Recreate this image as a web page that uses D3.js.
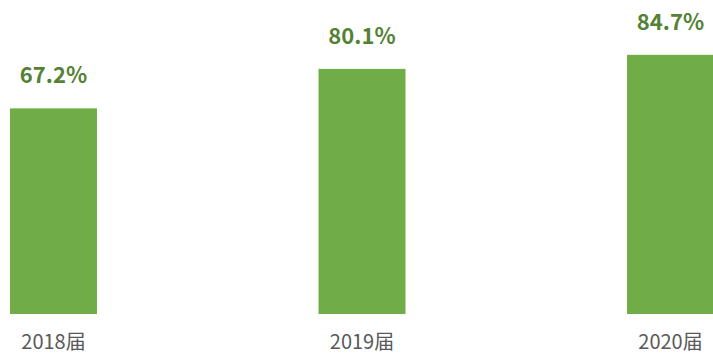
<!DOCTYPE html>
<html>
<head>
<meta charset="utf-8">
<script src="https://cdn.jsdelivr.net/npm/d3@7"></script>
<style>
  html, body { margin: 0; padding: 0; background: #fff; }
  svg { display: block; }
</style>
</head>
<body>
<svg id="chart" width="713" height="354"></svg>
<script>
// Graduating class categories and their rates (%)
const categories = ["2018届", "2019届", "2020届"];
const values = [67.2, 80.1, 84.7];

const svg = d3.select("#chart");
const font = "'Noto Sans CJK SC', 'Noto Sans', sans-serif";

const x = d3.scaleBand()
  .domain(categories)
  .range([10, 714])
  .paddingInner(0.718)
  .paddingOuter(0);

const y = d3.scaleLinear()
  .domain([0, 100])
  .range([314, 8]);

const data = categories.map((c, i) => ({ c, v: values[i] }));

svg.selectAll("rect.bar")
  .data(data)
  .join("rect")
  .attr("class", "bar")
  .attr("x", d => x(d.c))
  .attr("y", d => y(d.v))
  .attr("width", x.bandwidth())
  .attr("height", d => y(0) - y(d.v))
  .attr("fill", "#70ad47");

svg.selectAll("text.value")
  .data(data)
  .join("text")
  .attr("class", "value")
  .attr("x", d => x(d.c) + x.bandwidth() / 2)
  .attr("y", d => y(d.v) - 25)
  .attr("text-anchor", "middle")
  .attr("font-family", font)
  .attr("font-weight", "bold")
  .attr("font-size", 22)
  .attr("fill", "#548235")
  .text(d => d.v.toFixed(1) + "%");

// Category axis labels under the bars (no axis line)
const axis = d3.axisBottom(x).tickSize(0).tickPadding(0);
const g = svg.append("g")
  .attr("transform", `translate(0, ${y(0)})`)
  .call(axis);
g.select(".domain").remove();
g.selectAll("text")
  .attr("dy", null)
  .attr("y", 35)
  .attr("font-family", font)
  .attr("font-size", 20)
  .attr("fill", "#595959");
</script>
</body>
</html>
